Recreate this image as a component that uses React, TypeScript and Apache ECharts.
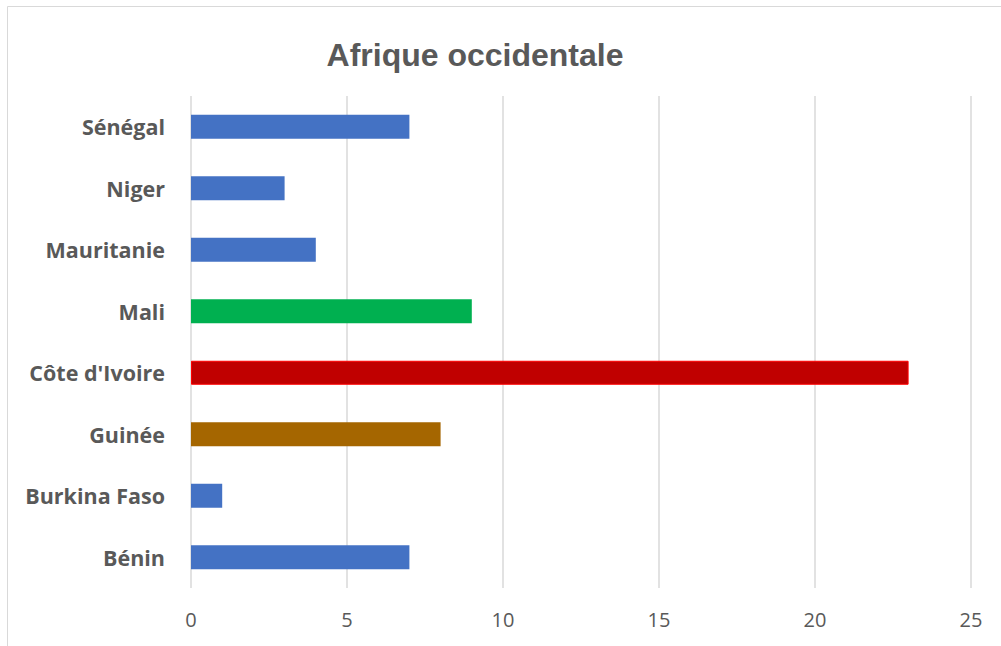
import React, { useEffect, useRef } from "react";
import * as echarts from "echarts";

const TITLE = "Afrique occidentale";
const categories = ["Sénégal", "Niger", "Mauritanie", "Mali", "Côte d'Ivoire", "Guinée", "Burkina Faso", "Bénin"];
const values = [7, 3, 4, 9, 23, 8, 1, 7];
const barColors = ["#4472C4", "#4472C4", "#4472C4", "#00B050", "#C00000", "#A56600", "#4472C4", "#4472C4"];
const barBorders = ["", "", "", "", "#FF0000", "", "", ""];
const xTicks = { min: 0, max: 25, interval: 5 };

export default function App() {
  const ref = useRef<HTMLDivElement>(null);
  useEffect(() => {
    if (!ref.current) return;
    const chart = echarts.init(ref.current, null, { renderer: "svg" });
    chart.setOption({
      animation: false,
      backgroundColor: "#ffffff",
      title: {
        text: TITLE,
        left: 470,
        textAlign: "center",
        top: 34,
        textStyle: { fontFamily: "Liberation Sans, Arial", fontWeight: "bold", fontSize: 32, color: "#595959" },
      },
      graphic: [
        { type: "line", shape: { x1: 7.5, y1: 6.5, x2: 1001, y2: 6.5 }, style: { stroke: "#D9D9D9", lineWidth: 1 } },
        { type: "line", shape: { x1: 7.5, y1: 6.5, x2: 7.5, y2: 646 }, style: { stroke: "#D9D9D9", lineWidth: 1 } },
      ],
      grid: { left: 191, right: 30, top: 96, bottom: 58, containLabel: false },
      xAxis: {
        type: "value",
        min: xTicks.min,
        max: xTicks.max,
        interval: xTicks.interval,
        axisLine: { show: false },
        axisTick: { show: false },
        splitLine: { show: true, lineStyle: { color: "#D9D9D9", width: 1.5 } },
        axisLabel: { color: "#595959", fontFamily: "Open Sans", fontSize: 20, margin: 21 },
      },
      yAxis: {
        type: "category",
        data: categories,
        inverse: true,
        axisLine: { show: false },
        axisTick: { show: false },
        axisLabel: { color: "#595959", fontFamily: "Open Sans", fontWeight: "bold", fontSize: 21.5, margin: 26 },
      },
      series: [
        {
          type: "bar",
          barWidth: 24,
          data: values.map((v, i) => ({
            value: v,
            itemStyle: {
              color: barColors[i],
              borderColor: barBorders[i] || barColors[i],
              borderWidth: barBorders[i] ? 1 : 0,
            },
          })),
        },
      ],
    });
    return () => chart.dispose();
  }, []);
  return (
    <div style={{ position: "absolute", left: 0, top: 0, width: 1001, height: 646 }}>
      <div ref={ref} style={{ width: 1001, height: 646 }} />
    </div>
  );
}
